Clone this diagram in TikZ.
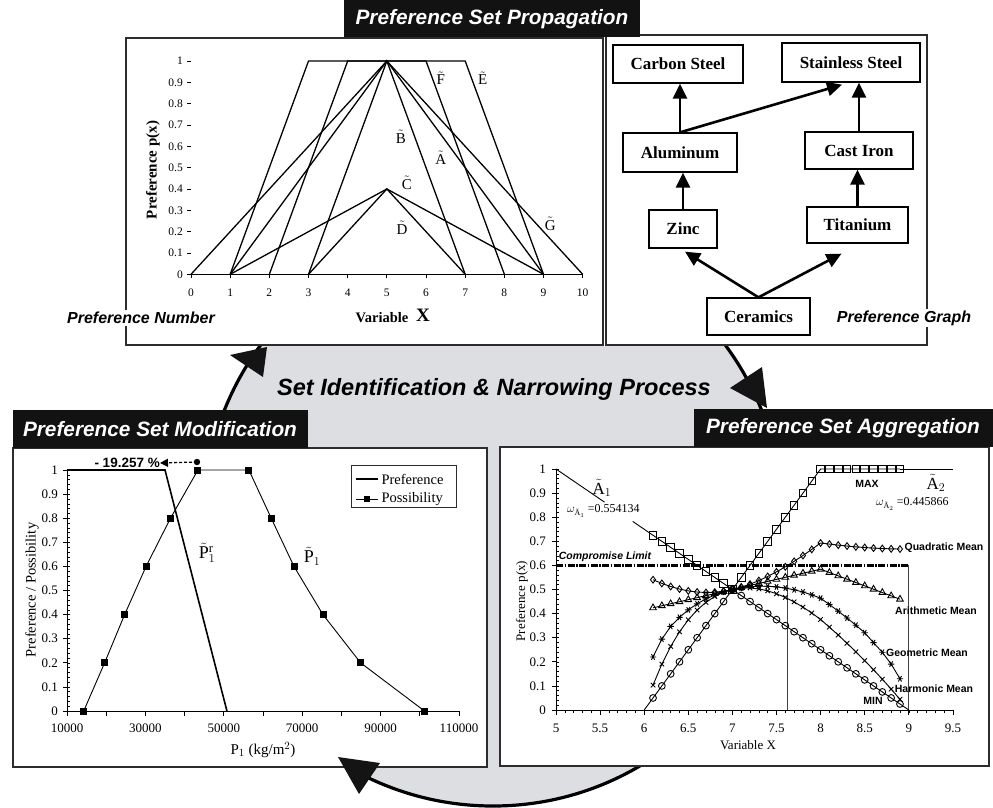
\documentclass[tikz,border=0pt]{standalone}
\usepackage{fontspec}
\setmainfont{Liberation Serif}
\setsansfont{Liberation Sans}
\usetikzlibrary{arrows.meta,calc,plotmarks}
\definecolor{cyclegray}{RGB}{221,222,225}
\definecolor{frameline}{RGB}{45,45,45}
\newcommand\fsz[1]{\fontsize{#1}{#1}\selectfont}
\newcommand\tildeletter[1]{\ensuremath{\tilde{\mathrm{#1}}}}
\begin{document}
\begin{tikzpicture}[x=1pt,y=-1pt,
  declare function={
    aone(\t)=1-0.25*(\t-5);
    atwo(\t)=min(1,max(0,(\t-6)/2));
    amax(\t)=max(aone(\t),atwo(\t));
    amin(\t)=min(aone(\t),atwo(\t));
    arith(\t)=0.554134*aone(\t)+0.445866*atwo(\t);
    quadm(\t)=sqrt(0.554134*aone(\t)*aone(\t)+0.445866*atwo(\t)*atwo(\t));
    geom(\t)=exp(0.554134*ln(aone(\t))+0.445866*ln(atwo(\t)));
    harm(\t)=1/(0.554134/aone(\t)+0.445866/atwo(\t));
  },
  panel/.style={draw=frameline, line width=1.6pt},
  titlebox/.style={fill=black!93},
  titletext/.style={text=white, font=\sffamily\bfseries\itshape\fsz{20.8}},
  tag/.style={font=\sffamily\bfseries\itshape\fsz{16}, fill=white, inner sep=2pt},
  matbox/.style={draw=black, line width=1.3pt, fill=white, font=\bfseries\fsz{17}, inner sep=0pt},
  matarrow/.style={line width=2.6pt, -{Triangle[length=15pt,width=14pt]}},
  cyclehead/.style={fill=black!92},
  fuzzy/.style={line width=1.3pt},
  aggline/.style={line width=0.9pt},
  ticklabA/.style={font=\fsz{11.5}, inner sep=0pt},
  ticklabB/.style={font=\fsz{13}, inner sep=0pt},
  smalllab/.style={font=\sffamily\bfseries\fsz{10.5}, inner sep=0pt},
  setlab/.style={font=\fsz{15}, inner sep=1pt},
]
% page
\fill[white] (0,0) rectangle (993,807);
\useasboundingbox (0,0) rectangle (993,807);

% cycle disc behind the panels
\filldraw[fill=cyclegray, draw=black, line width=3.2pt] (493,517) circle[radius=289pt];

% ---------- top panels ----------
\fill[white] (126,35) rectangle (927,346);
\draw[panel] (126,38) rectangle (603,345);
\draw[panel] (606,35) rectangle (927,345);
\fill[titlebox] (344,0) rectangle (640,37);
\node[titletext] (ttop) at (492,19) {Preference Set Propagation};

% ---------- bottom panels ----------
\draw[panel, fill=white] (13,448) rectangle (487,767);
\fill[titlebox] (13,410) rectangle (308,448);
\node[titletext] (tmod) at (160,429) {Preference Set Modification};
\draw[panel, fill=white] (500,447) rectangle (989,766);
\fill[titlebox] (694,409) rectangle (993,447);
\node[titletext] (tagg) at (843,428) {Preference Set Aggregation};

% cycle label and arrowheads
\node[font=\sffamily\bfseries\itshape\fsz{23.5}] (cyc) at (494,389) {Set Identification \& Narrowing Process};
\fill[cyclehead] (267,347) -- (230,355) -- (263,377) -- cycle;
\fill[cyclehead] (767,408) -- (730,388) -- (762,367) -- cycle;
\fill[cyclehead] (338,757) -- (380,763) -- (359,794) -- cycle;

% ---------- preference numbers ----------
\begin{scope}[shift={(191,274.3)}, x=39.17pt, y=213.3pt]
  \draw[line width=1pt] (0,0) -- (10,0);
  \foreach \u in {0,...,10} {
    \draw[line width=0.8pt] (\u,0) -- ++(0,-4pt);
    \node[ticklabA] at (\u,-0.088) {\u};
  }
  \foreach \i/\lab in {0/0,1/0.1,2/0.2,3/0.3,4/0.4,5/0.5,6/0.6,7/0.7,8/0.8,9/0.9,10/1} {
    \draw[line width=0.8pt] (0,\i/10) -- ++(-4pt,0);
    \node[ticklabA, anchor=east, xshift=-8pt] at (0,\i/10) {\lab};
  }
  \draw[fuzzy] (1,0) -- (3,1) -- (7,1) -- (9,0);
  \draw[fuzzy] (2,0) -- (4,1) -- (6,1) -- (8,0);
  \draw[fuzzy] (0,0) -- (5,1) -- (10,0);
  \draw[fuzzy] (1,0) -- (5,1) -- (9,0);
  \draw[fuzzy] (3,0) -- (5,1) -- (7,0);
  \draw[fuzzy] (1,0) -- (5,0.4) -- (9,0);
  \draw[fuzzy] (3,0) -- (5,0.4) -- (7,0);
  \node[setlab] at (6.38,0.92) {\tildeletter{F}};
  \node[setlab] at (7.45,0.92) {\tildeletter{E}};
  \node[setlab] at (5.36,0.644) {\tildeletter{B}};
  \node[setlab] at (6.38,0.545) {\tildeletter{A}};
  \node[setlab] at (5.51,0.43) {\tildeletter{C}};
  \node[setlab] at (5.39,0.217) {\tildeletter{D}};
  \node[setlab] at (9.17,0.236) {\tildeletter{G}};
\end{scope}
\node[font=\bfseries\fsz{15}, rotate=90] at (153,170) {Preference p(x)};
\node[font=\bfseries\fsz{14.5}] at (382,318) {Variable};
\node[font=\bfseries\fsz{19}] at (423,315) {X};
\node[tag] at (141,318) {Preference Number};

% ---------- preference graph ----------
\node[matbox, minimum width=130pt, minimum height=38pt] (cs) at (678,64) {Carbon Steel};
\node[matbox, minimum width=138pt, minimum height=39pt] (ss) at (851,62.5) {Stainless Steel};
\node[matbox, minimum width=114pt, minimum height=39pt] (al) at (680,152.5) {Aluminum};
\node[matbox, minimum width=108pt, minimum height=37pt] (ci) at (859,150.5) {Cast Iron};
\node[matbox, minimum width=68pt, minimum height=38pt] (zn) at (683,229) {Zinc};
\node[matbox, minimum width=101pt, minimum height=36pt] (ti) at (857.5,225) {Titanium};
\node[matbox, minimum width=103pt, minimum height=37pt] (ce) at (758.5,316.5) {Ceramics};
\draw[matarrow] (al.north) -- (al.north |- cs.south);
\draw[matarrow] (al.north) -- ($(ss.south)+(-9,2)$);
\draw[matarrow] (ci.north) -- (ci.north |- ss.south);
\draw[matarrow] (zn.north) -- (zn.north |- al.south);
\draw[matarrow] (ti.north) -- (ti.north |- ci.south);
\draw[matarrow] (ce.north) -- ($(zn.south)+(2,3)$);
\draw[matarrow] (ce.north) -- ($(ti.south)+(-16,10)$);
\node[tag] at (904,318) {Preference Graph};

% ---------- modification chart ----------
\begin{scope}[shift={(27.8,711)}, x=39.2pt, y=241pt]
  \draw[line width=0.9pt] (1,0) -- (11,0);
  \draw[line width=0.9pt] (1,0) -- (1,1);
  \foreach \i in {1,...,11} \draw[line width=0.8pt] (\i,0) -- ++(0,-5pt);
  \foreach \i in {0,...,50} \draw[line width=0.5pt] (1,\i/50) -- ++(3pt,0);
  \foreach \i/\lab in {0/0,1/0.1,2/0.2,3/0.3,4/0.4,5/0.5,6/0.6,7/0.7,8/0.8,9/0.9,10/1} {
    \draw[line width=0.8pt] (1,\i/10) -- ++(-4pt,0);
    \node[ticklabB, anchor=east, xshift=-9pt] at (1,\i/10) {\lab};
  }
  \foreach \u/\lab in {1/10000,3/30000,5/50000,7/70000,9/90000,11/110000}
    \node[ticklabB] at (\u,-0.072) {\lab};
  \draw[line width=1.6pt] (1,1) -- (3.5,1) -- (5.08,0);
  \draw[line width=0.9pt] plot[mark=square*, mark size=3pt] coordinates {
    (1.4255,0) (1.96,0.2) (2.47,0.4) (3.017,0.6) (3.64,0.8) (4.34,1)
    (5.64,1) (6.21,0.8) (6.79,0.6) (7.53,0.4) (8.49,0.2) (10.12,0)};
\end{scope}
\node[font=\fsz{14.5}, rotate=90] at (32,590) {Preference / Possibility};
\node[font=\fsz{15}] at (263,750) {P$_1$ (kg/m$^2$)};
\node[font=\fsz{18}, inner sep=1pt] at (207,553) {$\tilde{\mathrm{P}}_1^{\mathrm{r}}$};
\node[font=\fsz{18}, inner sep=1pt] at (312,556) {$\tilde{\mathrm{P}}_1$};
\node[font=\sffamily\bfseries\fsz{13.5}, anchor=east, inner sep=0pt] (pct) at (160,463) {- 19.257 \%};
\coordinate (dot) at (197,462);
\fill (dot) circle[radius=3.2pt];
\draw[densely dashed, line width=1.3pt, -{Triangle[length=8pt,width=8pt]}] (dot) -- (pct.east);
\draw[line width=1pt, draw=frameline] (351,465) rectangle (456,507);
\draw[line width=1.6pt] (356,479) -- (378,479);
\node[font=\fsz{14.5}, anchor=west] at (378,479) {Preference};
\draw[line width=0.9pt] (356,499) -- (378,499);
\fill (364,496) rectangle (370,502);
\node[font=\fsz{14.5}, anchor=west] at (378,499) {Possibility};

% ---------- aggregation chart ----------
\begin{scope}[shift={(115,710)}, x=88.2pt, y=241pt]
  \draw[line width=0.9pt] (5,0) -- (9.5,0);
  \draw[line width=0.9pt] (5,0) -- (5,1);
  \foreach \i in {50,...,95} \draw[line width=0.5pt] (\i/10,0) -- ++(0,-3pt);
  \foreach \i in {0,...,50} \draw[line width=0.5pt] (5,\i/50) -- ++(3pt,0);
  \foreach \i/\lab in {0/0,1/0.1,2/0.2,3/0.3,4/0.4,5/0.5,6/0.6,7/0.7,8/0.8,9/0.9,10/1} {
    \draw[line width=0.8pt] (5,\i/10) -- ++(-4pt,0);
    \node[ticklabB, anchor=east, xshift=-10pt] at (5,\i/10) {\lab};
  }
  \foreach \u in {5,5.5,6,6.5,7,7.5,8,8.5,9,9.5} {
    \draw[line width=0.8pt] (\u,0) -- ++(0,-5pt);
    \node[ticklabB] at (\u,-0.075) {\u};
  }
  \draw[line width=2.6pt, dash pattern=on 7pt off 1.5pt on 1.5pt off 1.5pt] (5,0.6) -- (9,0.6);
  \draw[line width=0.8pt, black!75] (7.625,0) -- (7.625,0.6);
  \draw[line width=0.8pt, black!75] (9,0) -- (9,0.6);
  \draw[aggline] (5,1) -- (5.55,{aone(5.55)});
  \draw[aggline] (5.87,{aone(5.87)}) -- (6.1,{aone(6.1)});
  \draw[aggline] (8.9,1) -- (9.5,1);
  \draw[aggline] plot[domain=6.1:8.9, samples=29, mark=square, mark size=3.8pt] (\x,{amax(\x)});
  \draw[aggline] plot[domain=6:9, samples=31, mark=o, mark indices={2,...,30}, mark size=3.4pt] (\x,{amin(\x)});
  \draw[aggline] plot[domain=6.1:8.9, samples=29, mark=diamond, mark size=3.4pt] (\x,{quadm(\x)});
  \draw[aggline] plot[domain=6.1:8.9, samples=29, mark=triangle, mark size=3.8pt] (\x,{arith(\x)});
  \draw[aggline] plot[domain=6.1:8.9, samples=29, mark=asterisk, mark options={rotate=90}, mark size=3.2pt] (\x,{geom(\x)});
  \draw[aggline] plot[domain=6.1:8.9, samples=29, mark=x, mark size=3.2pt] (\x,{harm(\x)});
\end{scope}
\node[font=\fsz{13}, rotate=90] at (522,601) {Preference p(x)};
\node[font=\fsz{13}] at (748,745) {Variable X};
\node[font=\fsz{17}, inner sep=1pt] at (602,488) {$\tilde{\mathrm{A}}_1$};
\node[font=\fsz{12}, anchor=west, inner sep=1pt] at (566,511) {$\omega_{\tilde{\mathrm{A}}_1}$ =0.554134};
\node[smalllab] at (867,484) {MAX};
\node[font=\fsz{17}, inner sep=1pt] at (936,483) {$\tilde{\mathrm{A}}_2$};
\node[font=\fsz{12}, anchor=west, inner sep=1pt] at (875,504) {$\omega_{\tilde{\mathrm{A}}_2}$ =0.445866};
\node[font=\sffamily\bfseries\itshape\fsz{10.5}, inner sep=0pt] at (605,557) {Compromise Limit};
\node[smalllab] at (944,548) {Quadratic Mean};
\node[smalllab] at (936,611) {Arithmetic Mean};
\node[smalllab] at (927,653) {Geometric Mean};
\node[smalllab] at (934,689) {Harmonic Mean};
\node[smalllab] at (873,701) {MIN};
\end{tikzpicture}
\end{document}
